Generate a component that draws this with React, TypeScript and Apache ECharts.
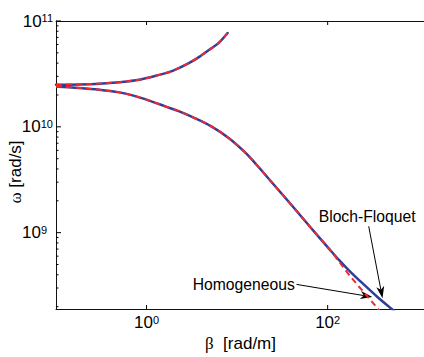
import { useEffect, useRef } from 'react';
import * as echarts from 'echarts';

// ---- data (β in rad/m, ω in rad/s) ----
const upperBeta = [0.1, 0.1805, 0.3001, 0.4992, 0.8304, 1.381, 1.938, 2.964, 3.822, 5.187, 6.358, 7.852];
const upperOmega = [2.502e10, 2.518e10, 2.557e10, 2.642e10, 2.789e10, 3.097e10, 3.38e10, 4.023e10, 4.585e10, 5.516e10, 6.288e10, 7.697e10];

const lowerBetaBloch = [0.1, 0.1805, 0.3001, 0.4992, 0.7003, 1.071, 1.638, 2.298, 3.224, 5.187, 8.2, 12.1, 16.3, 21.95, 37.75, 62.8, 104.4, 134.7, 173.7, 248.1, 354.2, 509.6, 652.3];
const lowerOmegaBloch = [2.41e10, 2.333e10, 2.244e10, 2.116e10, 1.982e10, 1.77e10, 1.553e10, 1.399e10, 1.235e10, 1.009e10, 7.77e9, 5.787e9, 4.41e9, 3.285e9, 1.926e9, 1.155e9, 6.996e8, 5.469e8, 4.362e8, 3.264e8, 2.47e8, 1.901e8, 1.597e8];

const lowerBetaHomog = [0.1, 0.1805, 0.3001, 0.4992, 0.7003, 1.071, 1.638, 2.298, 3.224, 5.187, 8.2, 12.1, 16.3, 21.95, 37.75, 62.8, 104.4, 169.3, 209.1, 347.8, 392.1];
const lowerOmegaHomog = [2.41e10, 2.333e10, 2.244e10, 2.116e10, 1.982e10, 1.77e10, 1.553e10, 1.399e10, 1.235e10, 1.009e10, 7.77e9, 5.787e9, 4.41e9, 3.285e9, 1.926e9, 1.155e9, 6.996e8, 4.076e8, 3.278e8, 1.969e8, 1.736e8];

// axis extents and tick values
const xRange = [0.1, 1250];
const yRange = [1.9e8, 1e11];
const xTickValues = [1, 100];
const yTickValues = [1e9, 1e10, 1e11];
const yMinorMantissas = [2, 3, 4, 5, 6, 7, 8, 9];
const yMinorDecades = [1e8, 1e9, 1e10];

const BLUE = '#2f3d9c';
const RED = '#ec2a2f';
const FONT = 'Liberation Sans, Arial, sans-serif';

const zip = (a: number[], b: number[]) => a.map((v, i) => [v, b[i]]);

const isTick = (v: number, list: number[]) =>
  list.some((t) => Math.abs(Math.log10(v) - Math.log10(t)) < 1e-6);

function arrow(x1: number, y1: number, x2: number, y2: number) {
  const dx = x2 - x1;
  const dy = y2 - y1;
  const len = Math.hypot(dx, dy);
  const ux = dx / len;
  const uy = dy / len;
  const nx = -uy;
  const ny = ux;
  const L = 12;
  const W = 4;
  const back = 0.72 * L;
  return [
    {
      type: 'line',
      silent: true,
      shape: { x1, y1, x2: x2 - ux * back, y2: y2 - uy * back },
      style: { stroke: '#000', lineWidth: 1 },
    },
    {
      type: 'polygon',
      silent: true,
      shape: {
        points: [
          [x2, y2],
          [x2 - ux * L + nx * W, y2 - uy * L + ny * W],
          [x2 - ux * back, y2 - uy * back],
          [x2 - ux * L - nx * W, y2 - uy * L - ny * W],
        ],
      },
      style: { fill: '#000' },
    },
  ];
}

export default function App() {
  const ref = useRef<HTMLDivElement>(null);

  useEffect(() => {
    const chart = echarts.init(ref.current!, null, { renderer: 'svg' });

    const tickData: number[][] = [];
    xTickValues.forEach((v) => {
      tickData.push([v, yRange[0], 0]);
      tickData.push([v, yRange[1], 1]);
    });
    yTickValues.forEach((v) => tickData.push([xRange[0], v, 2]));
    yMinorDecades.forEach((d) =>
      yMinorMantissas.forEach((m) => {
        const v = m * d;
        if (v > yRange[0] && v < yRange[1]) tickData.push([xRange[0], v, 3]);
      })
    );

    const rich = {
      b: { fontSize: 17, lineHeight: 17, padding: [4, 0, 0, 0], verticalAlign: 'bottom', fontFamily: FONT, color: '#000' },
      s: { fontSize: 11, lineHeight: 11, verticalAlign: 'top', fontFamily: FONT, color: '#000' },
      s1: { fontSize: 11, lineHeight: 11, verticalAlign: 'top', padding: [0, 6, 0, 0], fontFamily: FONT, color: '#000' },
    };

    const lineBase = { type: 'line', symbol: 'none', smooth: 0.35 };

    const option: any = {
      animation: false,
      backgroundColor: '#fff',
      grid: { left: 56, top: 21, right: 13, bottom: 48, containLabel: false },
      xAxis: [
        {
          type: 'log',
          logBase: 10,
          min: xRange[0],
          max: xRange[1],
          position: 'bottom',
          axisLine: { show: true, lineStyle: { color: '#111', width: 1 } },
          axisTick: { show: false },
          splitLine: { show: false },
          axisLabel: {
            margin: 5,
            formatter: (v: number) =>
              isTick(v, xTickValues) ? `{b|10}{s|${Math.round(Math.log10(v))}}` : '',
            rich,
          },
        },
        {
          type: 'log',
          logBase: 10,
          min: xRange[0],
          max: xRange[1],
          position: 'top',
          axisLine: { show: true, lineStyle: { color: '#111', width: 1 } },
          axisTick: { show: false },
          axisLabel: { show: false },
          splitLine: { show: false },
        },
      ],
      yAxis: {
        type: 'log',
        logBase: 10,
        min: yRange[0],
        max: yRange[1],
        axisLine: { show: true, lineStyle: { color: '#111', width: 1 } },
        axisTick: { show: false },
        splitLine: { show: false },
        axisLabel: {
          margin: 3,
          formatter: (v: number) => {
            if (!isTick(v, yTickValues)) return '';
            const e = String(Math.round(Math.log10(v)));
            return `{b|10}{${e.length === 1 ? 's1' : 's'}|${e}}`;
          },
          rich,
        },
      },
      series: [
        {
          ...lineBase,
          name: 'Bloch-Floquet upper',
          data: zip(upperBeta, upperOmega),
          lineStyle: { color: BLUE, width: 2.5, join: 'round', cap: 'round' },
          z: 2,
        },
        {
          ...lineBase,
          name: 'Homogeneous upper',
          data: zip(upperBeta, upperOmega),
          lineStyle: { color: RED, width: 2, type: [6, 4], join: 'round' },
          z: 3,
        },
        {
          ...lineBase,
          name: 'Bloch-Floquet lower',
          data: zip(lowerBetaBloch, lowerOmegaBloch),
          lineStyle: { color: BLUE, width: 2.5, join: 'round' },
          z: 2,
        },
        {
          ...lineBase,
          name: 'Homogeneous lower',
          data: zip(lowerBetaHomog, lowerOmegaHomog),
          lineStyle: { color: RED, width: 2, type: [6, 4], join: 'round' },
          z: 3,
        },
        {
          name: 'ticks',
          type: 'custom',
          silent: true,
          data: tickData,
          z: 5,
          renderItem: (_params: any, api: any) => {
            const k = api.value(2);
            const p = api.coord([api.value(0), api.value(1)]);
            let dx = 0;
            let dy = 0;
            if (k === 0) dy = -4;
            else if (k === 1) dy = 4;
            else if (k === 2) dx = 5;
            else dx = 2.5;
            return {
              type: 'line',
              shape: { x1: p[0], y1: p[1], x2: p[0] + dx, y2: p[1] + dy },
              style: { stroke: '#000', lineWidth: 1 },
            };
          },
        },
      ],
      graphic: [
        {
          type: 'text',
          silent: true,
          x: 205,
          y: 343,
          style: {
            text: '{g|β}  [rad/m]',
            fontSize: 17,
            fontFamily: FONT,
            fill: '#000',
            align: 'left',
            verticalAlign: 'middle',
            rich: { g: { fontSize: 17, fontFamily: 'Liberation Serif, serif', fill: '#000' } },
          },
        },
        {
          type: 'text',
          silent: true,
          x: 15.5,
          y: 172,
          rotation: Math.PI / 2,
          style: {
            text: '{g|ω} [rad/s]',
            fontSize: 17,
            fontFamily: FONT,
            fill: '#000',
            align: 'center',
            verticalAlign: 'middle',
            rich: { g: { fontSize: 17, fontFamily: 'Liberation Serif, serif', fill: '#000' } },
          },
        },
        {
          type: 'text',
          silent: true,
          x: 318.7,
          y: 216.4,
          style: { text: 'Bloch-Floquet', fontSize: 15.7, fontFamily: FONT, fill: '#000', align: 'left', verticalAlign: 'middle' },
        },
        {
          type: 'text',
          silent: true,
          x: 192.7,
          y: 284.6,
          style: { text: 'Homogeneous', fontSize: 15.7, fontFamily: FONT, fill: '#000', align: 'left', verticalAlign: 'middle' },
        },
        ...arrow(296.5, 284.4, 372.3, 297),
        ...arrow(368.7, 226.3, 382.5, 298.3),
      ],
    };

    chart.setOption(option);
    return () => chart.dispose();
  }, []);

  return (
    <div
      style={{
        position: 'fixed',
        left: 0,
        top: 0,
        width: 424,
        height: 357,
        overflow: 'hidden',
        background: '#fff',
      }}
    >
      <div ref={ref} style={{ width: 440, height: 357 }} />
    </div>
  );
}
